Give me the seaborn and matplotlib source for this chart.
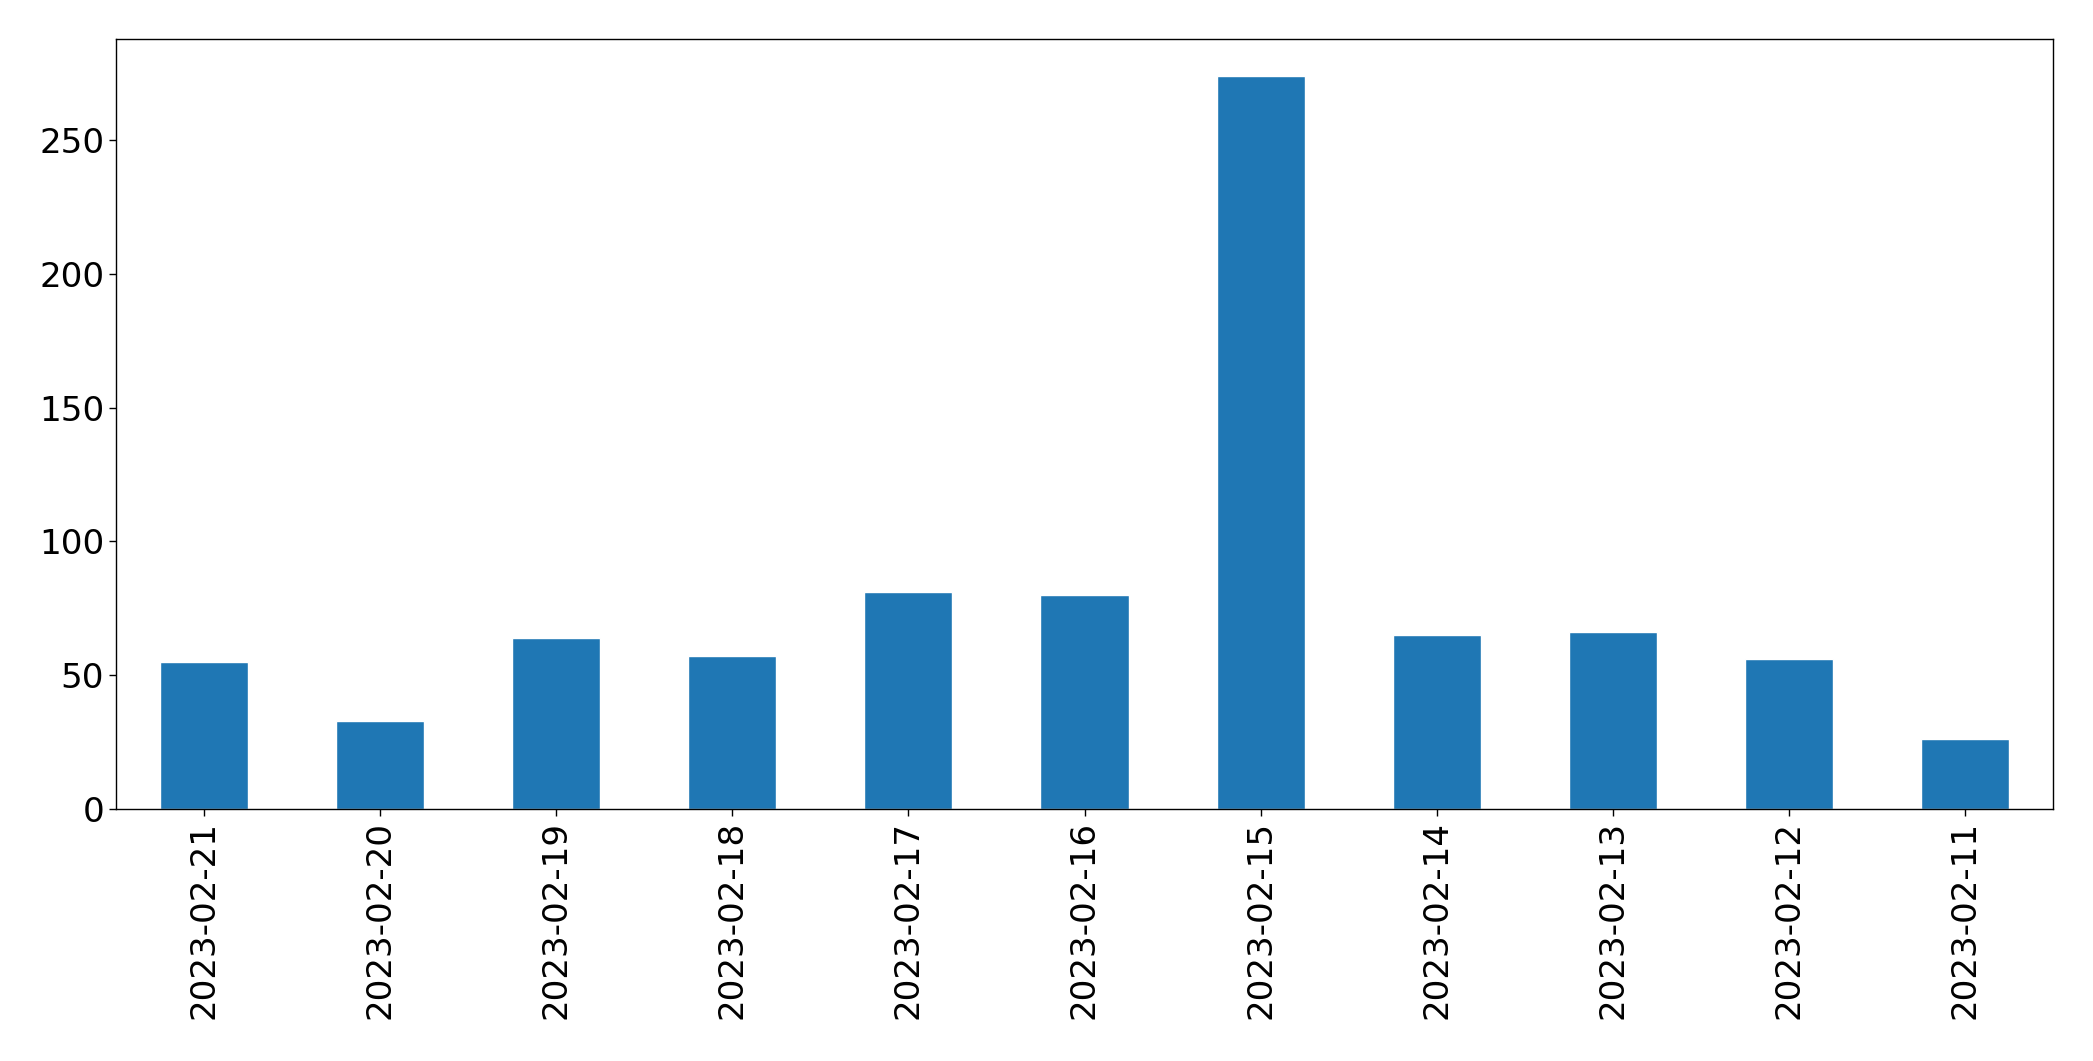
import pandas as pd
import seaborn as sns
import matplotlib
matplotlib.use("Agg")
import matplotlib.pyplot as plt

# daily counts, newest first
dates = ["2023-02-21", "2023-02-20", "2023-02-19", "2023-02-18", "2023-02-17",
         "2023-02-16", "2023-02-15", "2023-02-14", "2023-02-13", "2023-02-12",
         "2023-02-11"]
counts = [55, 33, 64, 57, 81, 80, 274, 65, 66, 56, 26]

df = pd.DataFrame({"date": dates, "count": counts})

sns.set_style("ticks")
plt.rcParams['font.family'] = ['DejaVu Sans']
plt.rcParams['text.color'] = 'black'
plt.rcParams['xtick.color'] = 'black'
plt.rcParams['ytick.color'] = 'black'

fig = plt.figure(figsize=(20.93, 10.61), dpi=100)
ax = fig.add_axes([116 / 2093, 1 - 809 / 1061, (2053 - 116) / 2093, (809 - 39) / 1061])

sns.barplot(data=df, x="date", y="count", order=dates, color="#1f77b4",
            saturation=1, width=0.5, ax=ax)

ax.set_xlabel("")
ax.set_ylabel("")
ax.set_xlim(-0.5, len(dates) - 0.5)
ax.set_ylim(0, 287.7)
ax.set_yticks([0, 50, 100, 150, 200, 250])
ax.tick_params(axis="both", labelsize=24.6, length=5, width=1,
               color="black", labelcolor="black")
plt.setp(ax.get_xticklabels(), rotation=90)
for s in ax.spines.values():
    s.set_visible(True)
    s.set_color("black")
    s.set_linewidth(1)

fig.savefig("out.png", dpi=100)
